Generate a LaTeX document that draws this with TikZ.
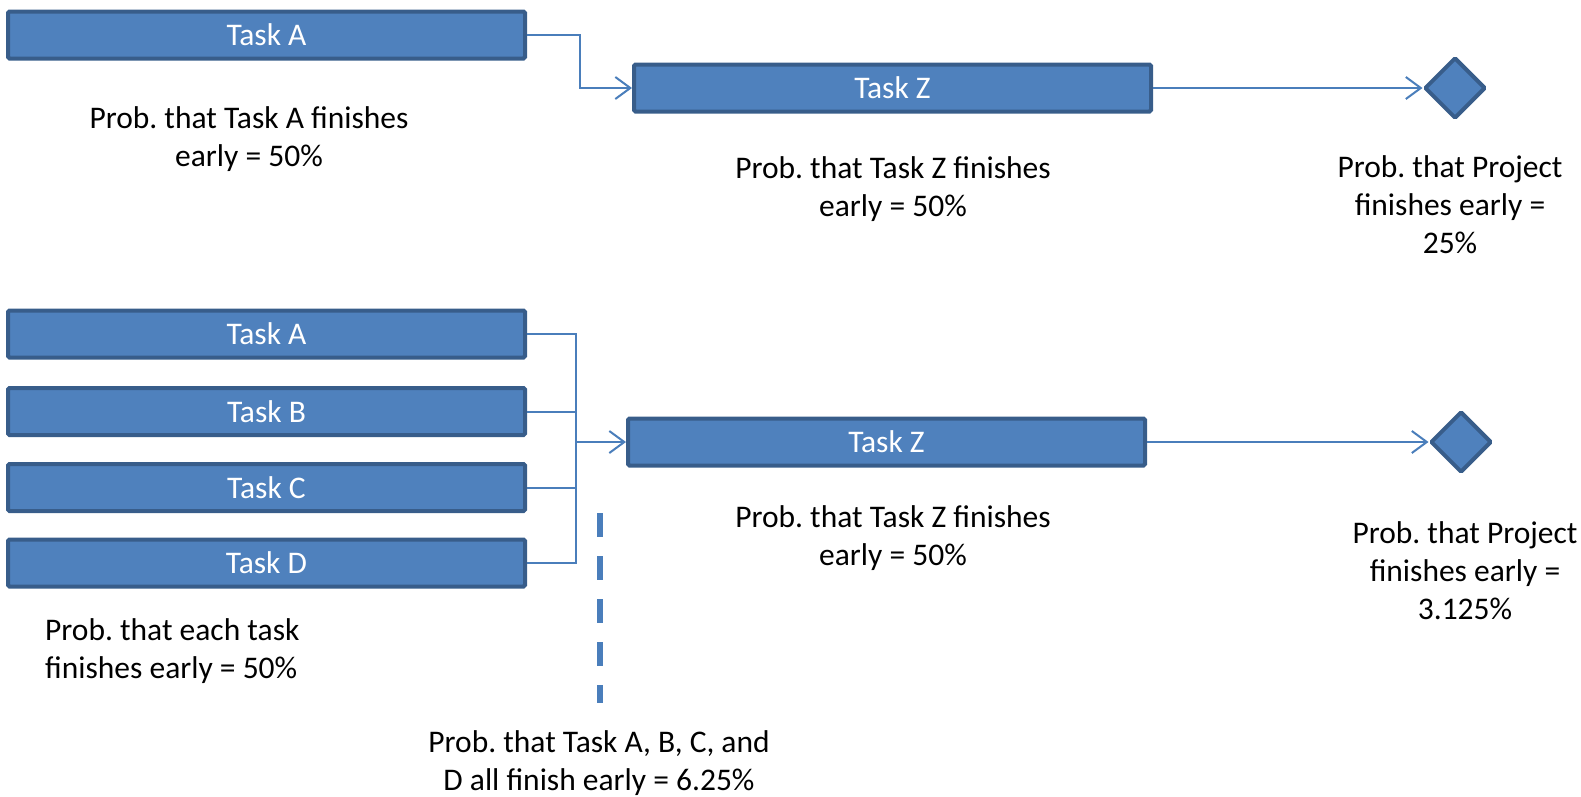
\documentclass[tikz,border=0pt]{standalone}
\usepackage{fontspec}
\setmainfont{Carlito}
\usetikzlibrary{arrows.meta,shapes.geometric}
\definecolor{taskfill}{HTML}{4F81BD}
\definecolor{taskline}{HTML}{385D8A}
\definecolor{conn}{HTML}{4A7EBB}
\frenchspacing
\begin{document}
\begin{tikzpicture}[x=1pt,y=-1pt,
  taskbox/.style={draw=taskline,fill=taskfill,line width=4pt,rounded corners=1.5pt,
    minimum width=517pt,minimum height=47pt,inner sep=0pt,text=white,
    font=\fontsize{31.5}{38}\selectfont},
  milestone/.style={diamond,draw=taskline,fill=taskfill,line width=4pt,
    minimum width=61pt,minimum height=61pt,inner sep=0pt,rounded corners=1pt},
  lbl/.style={align=center,inner sep=0pt,font=\fontsize{31.5}{38}\selectfont},
  conn/.style={draw=conn,line width=2pt},
  arr/.style={conn,-{Straight Barb[length=15pt,width=22pt,line width=2pt]}}
]
\useasboundingbox (0,0) rectangle (1581,796);
% top
\node[taskbox] (ta1) at (266.5,35) {Task A};
\node[taskbox] (tz1) at (892.5,88) {Task Z};
\node[milestone] (m1) at (1455,88) {};
\draw[arr] (ta1.east) -| (580,88) -- (tz1.west);
\draw[arr] (tz1.east) -- (m1.west);
\node[lbl] (la1) at (249,139) {Prob. that Task A finishes\\early = 50\%};
\node[lbl] (lz1) at (893,189) {Prob. that Task Z finishes\\early = 50\%};
\node[lbl] (lm1) at (1450,205) {Prob. that Project\\finishes early =\\25\%};
% bottom
\node[taskbox] (ta2) at (266.5,334) {Task A};
\node[taskbox] (tb2) at (266.5,411.5) {Task B};
\node[taskbox] (tc2) at (266.5,487.5) {Task C};
\node[taskbox] (td2) at (266.5,563) {Task D};
\node[taskbox] (tz2) at (886.5,442) {Task Z};
\node[milestone] (m2) at (1461,442) {};
\coordinate (bustop) at (576,334);
\coordinate (busbot) at (576,563);
\coordinate (busmid) at (576,442);
\draw[conn] (ta2.east) -- (bustop) -- (busbot) -- (td2.east);
\draw[conn] (tb2.east) -- (576,411.5);
\draw[conn] (tc2.east) -- (576,487.5);
\draw[arr] (busmid) -- (tz2.west);
\draw[arr] (tz2.east) -- (m2.west);
\coordinate (dtop) at (600,513);
\coordinate (dbot) at (600,703);
\draw[draw=conn,line width=6pt,dash pattern=on 24pt off 19pt] (dtop) -- (dbot);
\node[lbl,align=left,anchor=west] (leach) at (45,651.5) {Prob. that each task\\finishes early = 50\%};
\node[lbl] (lz2) at (893,538.5) {Prob. that Task Z finishes\\early = 50\%};
\node[lbl] (lm2) at (1465,571) {Prob. that Project\\finishes early =\\3.125\%};
\node[lbl] (lall) at (599,763.5) {Prob. that Task A, B, C, and\\D all finish early = 6.25\%};
\end{tikzpicture}
\end{document}
